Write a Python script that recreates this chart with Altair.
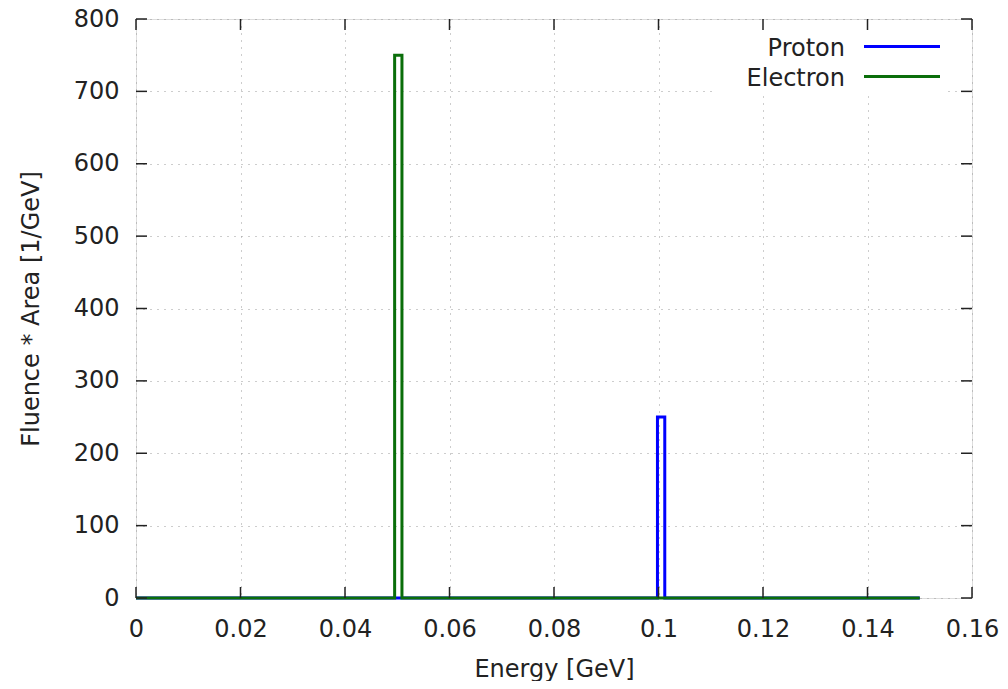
import altair as alt
import pandas as pd

# ---- data ----
series_names = ["Proton", "Electron"]
series_colors = ["#0000ff", "#0a6e0a"]

proton_energy = [0.0, 0.0998, 0.1012, 0.15]
proton_value = [0.0, 250.0, 0.0, 0.0]

electron_energy = [0.0, 0.0495, 0.0509, 0.15]
electron_value = [0.0, 750.0, 0.0, 0.0]

x_ticks = [0, 0.02, 0.04, 0.06, 0.08, 0.1, 0.12, 0.14, 0.16]
y_ticks = [0, 100, 200, 300, 400, 500, 600, 700, 800]

W, H = 836, 579
FONT = "DejaVu Sans"
FS = 24
TICK = 11
TXT = "#222222"

df = pd.concat([
    pd.DataFrame({"energy": proton_energy, "value": proton_value, "series": "Proton"}),
    pd.DataFrame({"energy": electron_energy, "value": electron_value, "series": "Electron"}),
])

xscale = alt.Scale(domain=[0, 0.16], nice=False, zero=False)
yscale = alt.Scale(domain=[0, 800], nice=False)

common_axis = dict(grid=True, gridDash=[1, 6], gridColor="#9a9a9a", gridWidth=1,
                   ticks=False, domain=False, labelFont=FONT, labelFontSize=FS,
                   labelColor=TXT, titleFont=FONT, titleFontSize=FS,
                   titleFontWeight="normal", titleColor=TXT, labelFlush=False)
xaxis = alt.Axis(values=x_ticks, format="~g", title="Energy [GeV]",
                 labelPadding=19, titlePadding=16, **common_axis)
yaxis = alt.Axis(values=y_ticks, title="Fluence * Area [1/GeV]",
                 labelPadding=17, titlePadding=30, **common_axis)

base_axes = alt.Chart(pd.DataFrame({"e": [0.0], "v": [0.0]})).mark_point(opacity=0).encode(
    x=alt.X("e:Q", scale=xscale, axis=xaxis),
    y=alt.Y("v:Q", scale=yscale, axis=yaxis),
)

# white legend box hiding the grid
legend_box = alt.Chart(pd.DataFrame({"a": [0]})).mark_rect(color="white").encode(
    x=alt.value(579), x2=alt.value(812), y=alt.value(1), y2=alt.value(74)
)

def series_line(name, color):
    return alt.Chart(df[df.series == name]).mark_line(
        interpolate="step-after", strokeWidth=3, color=color, strokeJoin="miter"
    ).encode(
        x=alt.X("energy:Q", scale=xscale),
        y=alt.Y("value:Q", scale=yscale),
    )

lines = [series_line(n, c) for n, c in zip(series_names, series_colors)]

xt = pd.DataFrame({"t": x_ticks})
yt = pd.DataFrame({"t": y_ticks})
tick_style = dict(color=TXT, strokeWidth=1.5)
ticks = [
    alt.Chart(xt).mark_rule(**tick_style).encode(x=alt.X("t:Q", scale=xscale), y=alt.value(H), y2=alt.value(H - TICK)),
    alt.Chart(xt).mark_rule(**tick_style).encode(x=alt.X("t:Q", scale=xscale), y=alt.value(0), y2=alt.value(TICK)),
    alt.Chart(yt).mark_rule(**tick_style).encode(y=alt.Y("t:Q", scale=yscale), x=alt.value(0), x2=alt.value(TICK)),
    alt.Chart(yt).mark_rule(**tick_style).encode(y=alt.Y("t:Q", scale=yscale), x=alt.value(W), x2=alt.value(W - TICK)),
]

# legend (label left, sample line right, gnuplot style)
legend_layers = []
for i, (n, c) in enumerate(zip(series_names, series_colors)):
    legend_layers.append(
        alt.Chart(pd.DataFrame({"name": [n]})).mark_text(
            align="right", baseline="middle", font=FONT, fontSize=FS, color=TXT
        ).encode(text="name:N", x=alt.value(709), y=alt.value(29.5 + 30 * i))
    )
    legend_layers.append(
        alt.Chart(pd.DataFrame({"name": [n]})).mark_rule(color=c, strokeWidth=3).encode(
            x=alt.value(728), x2=alt.value(804), y=alt.value(27.5 + 30 * i)
        )
    )

chart = alt.layer(base_axes, legend_box, *lines, *ticks, *legend_layers).properties(
    width=W, height=H,
    autosize=alt.AutoSizeParams(type="none"),
    padding={"left": 128, "top": 11, "right": 28, "bottom": 83},
).configure_view(stroke=TXT, strokeWidth=1.5).configure(background="white")

chart.save("out.html", embed_options={"renderer": "svg", "actions": False})
